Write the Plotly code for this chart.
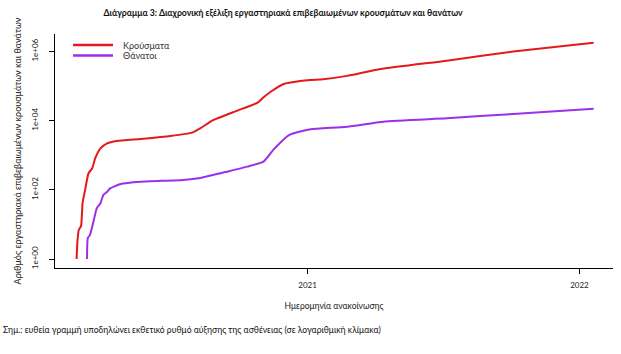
import plotly.graph_objects as go

cases_dates = ["2020-02-26", "2020-02-27", "2020-02-29", "2020-03-03", "2020-03-05", "2020-03-08",
               "2020-03-13", "2020-03-18", "2020-03-22", "2020-03-29", "2020-04-07", "2020-04-20",
               "2020-05-22", "2020-07-01", "2020-07-30", "2020-08-11", "2020-08-26", "2020-09-29",
               "2020-10-26", "2020-11-03", "2020-11-13", "2020-11-30", "2020-12-22", "2021-01-05",
               "2021-01-22", "2021-02-23", "2021-04-09", "2021-07-07", "2021-10-04", "2022-01-20"]
cases = [1, 3, 7, 9, 41, 89, 300, 418, 815, 1580, 2200, 2570, 2940, 3570, 4470, 6140, 10000,
         19400, 33000, 47000, 69000, 114000, 139000, 149000, 156000, 195000, 309000, 537000,
         984000, 1780000]

deaths_dates = ["2020-03-11", "2020-03-12", "2020-03-15", "2020-03-20", "2020-03-24", "2020-03-29",
                "2020-04-02", "2020-04-07", "2020-04-11", "2020-04-25", "2020-05-22", "2020-07-18",
                "2020-08-10", "2020-09-15", "2020-10-12", "2020-11-03", "2020-11-16", "2020-11-25",
                "2020-12-04", "2020-12-09", "2020-12-18", "2021-01-05", "2021-02-23", "2021-04-13",
                "2021-07-07", "2021-10-04", "2022-01-20"]
deaths = [1, 4, 5, 13, 29, 41, 71, 88, 110, 147, 171, 192, 219, 333, 467, 650, 1420, 2250,
          3400, 3960, 4600, 5620, 6650, 9300, 11700, 15500, 22000]

series_names = ["Κρούσματα", "Θάνατοι"]
series_colors = ["#e3191c", "#9b30e8"]

y_tickvals = [1, 100, 10000, 1000000]
y_ticktext = ["1e+00", "1e+02", "1e+04", "1e+06"]
x_tickvals = ["2021-01-01", "2022-01-01"]
x_ticktext = ["2021", "2022"]

FONT = "Lato"
fig = go.Figure()
fig.add_trace(go.Scatter(x=cases_dates, y=cases, mode="lines", name=series_names[0],
                         line=dict(color=series_colors[0], width=2, shape="spline", smoothing=0.5)))
fig.add_trace(go.Scatter(x=deaths_dates, y=deaths, mode="lines", name=series_names[1],
                         line=dict(color=series_colors[1], width=2, shape="spline", smoothing=0.5)))

# plot area: x 55..613, y 34..268
L, R, T, B = 55, 613, 34, 268
W, H = R - L, B - T

fig.update_layout(
    width=621, height=354,
    margin=dict(l=L, r=621 - R, t=T, b=354 - B),
    paper_bgcolor="white", plot_bgcolor="white",
    font=dict(family=FONT, size=8, color="#222"),
    title=dict(text="<b>Διάγραμμα 3: Διαχρονική εξέλιξη εργαστηριακά επιβεβαιωμένων κρουσμάτων και θανάτων</b>",
               x=283/621, xanchor="center", y=1-13/354, yanchor="middle",
               font=dict(family=FONT, size=8.7, color="#111")),
    showlegend=False,
    xaxis=dict(type="date", range=["2020-01-28", "2022-02-15"],
               tickvals=x_tickvals, ticktext=x_ticktext,
               showline=True, linecolor="black", linewidth=1,
               ticks="outside", ticklen=5, tickcolor="black", ticklabelstandoff=4,
               showgrid=False, zeroline=False,
               tickfont=dict(family=FONT, size=8, color="#222"),
               title=dict(text="Ημερομηνία ανακοίνωσης", standoff=14,
                          font=dict(family=FONT, size=8.5, color="#222"))),
    yaxis=dict(type="log", range=[-0.26, 6.5],
               tickvals=y_tickvals, ticktext=y_ticktext, tickangle=-90,
               showline=True, linecolor="black", linewidth=1,
               ticks="outside", ticklen=5, tickcolor="black", ticklabelstandoff=8,
               showgrid=False, zeroline=False,
               tickfont=dict(family=FONT, size=8, color="#222"),
               title=dict(text="Αριθμός εργαστηριακά επιβεβαιωμένων κρουσμάτων και θανάτων", standoff=6,
                          font=dict(family=FONT, size=9, color="#222"))),
)

# legend (manual, R-style)
for i, (nm, col) in enumerate(zip(series_names, series_colors)):
    yy = 1 - (45 + 10.5 * i - T) / H
    fig.add_shape(type="line", xref="paper", yref="paper",
                  x0=(73 - L) / W, x1=(113 - L) / W, y0=yy, y1=yy,
                  line=dict(color=col, width=2.5))
    fig.add_annotation(text=nm, xref="paper", yref="paper", x=(121 - L) / W, y=yy,
                       xanchor="left", yanchor="middle", showarrow=False,
                       font=dict(family=FONT, size=9, color="#333"))

fig.add_annotation(text="Σημ.: ευθεία γραμμή υποδηλώνει εκθετικό ρυθμό αύξησης της ασθένειας (σε λογαριθμική κλίμακα)",
                   xref="paper", yref="paper", x=-(L - 1) / W, y=-(330 - B) / H, xanchor="left", yanchor="middle",
                   showarrow=False, font=dict(family=FONT, size=8.6, color="#111"))

fig.write_html("out.html")
